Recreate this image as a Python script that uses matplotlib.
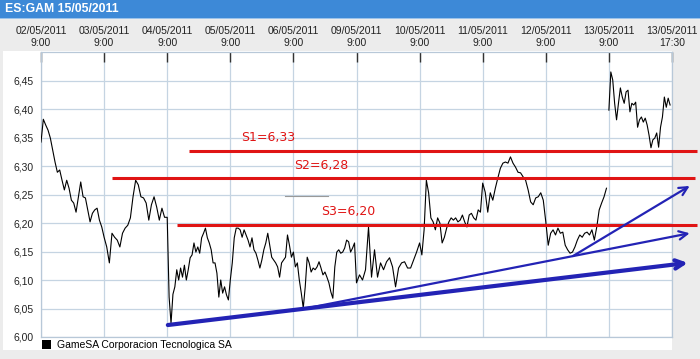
import numpy as np
import matplotlib.pyplot as plt
from matplotlib.patches import Rectangle, Patch

plt.rcParams['font.family'] = ['Liberation Sans', 'DejaVu Sans']

# trading sessions (one list of prices per day, sampled evenly through the session)
day_labels = ["02/05/2011", "03/05/2011", "04/05/2011", "05/05/2011", "06/05/2011",
              "09/05/2011", "10/05/2011", "11/05/2011", "12/05/2011", "13/05/2011"]
gap_before = ["13/05/2011"]

p_0205 = [6.342, 6.382, 6.372, 6.363, 6.349, 6.328, 6.307, 6.289, 6.293, 6.275, 6.258,
          6.275, 6.261, 6.240, 6.235, 6.219, 6.246, 6.272, 6.246, 6.244, 6.223, 6.202,
          6.217, 6.223, 6.226, 6.205, 6.193]
p_0305 = [6.175, 6.158, 6.130, 6.182, 6.175, 6.170, 6.158, 6.182, 6.191, 6.196, 6.209,
          6.246, 6.275, 6.267, 6.246, 6.244, 6.235, 6.205, 6.232, 6.246, 6.228, 6.205,
          6.226, 6.210]
p_0405 = [6.210, 6.070, 6.024, 6.075, 6.088, 6.118, 6.100, 6.121, 6.105, 6.126, 6.100,
          6.118, 6.139, 6.144, 6.165, 6.149, 6.158, 6.147, 6.174, 6.182, 6.191, 6.174,
          6.165, 6.153, 6.130, 6.130, 6.112, 6.070, 6.100, 6.077, 6.088, 6.074, 6.065]
p_0505 = [6.100, 6.130, 6.174, 6.191, 6.191, 6.188, 6.175, 6.188, 6.179, 6.170, 6.158,
          6.174, 6.153, 6.147, 6.135, 6.121, 6.135, 6.153, 6.165, 6.182, 6.161, 6.140,
          6.135, 6.130, 6.123, 6.105, 6.130, 6.135, 6.140, 6.179, 6.161, 6.140]
p_0605 = [6.149, 6.123, 6.130, 6.100, 6.077, 6.051, 6.088, 6.140, 6.130, 6.114, 6.121,
          6.118, 6.123, 6.132, 6.121, 6.109, 6.114, 6.105, 6.095, 6.079, 6.068, 6.123,
          6.149, 6.153, 6.147, 6.149, 6.156, 6.170, 6.167, 6.149, 6.156, 6.165]
p_0905 = [6.095, 6.109, 6.100, 6.118, 6.193, 6.105, 6.153, 6.105, 6.130, 6.118, 6.132,
          6.139, 6.123, 6.088, 6.121, 6.130, 6.132, 6.121, 6.121, 6.135, 6.149]
p_1005 = [6.165, 6.144, 6.188, 6.275, 6.253, 6.209, 6.202, 6.188, 6.209, 6.200, 6.165,
          6.175, 6.191, 6.202, 6.209, 6.205, 6.209, 6.202, 6.205, 6.214, 6.202, 6.193,
          6.214, 6.217, 6.209, 6.205, 6.223, 6.219]
p_1105 = [6.270, 6.254, 6.219, 6.253, 6.240, 6.261, 6.279, 6.296, 6.305, 6.307, 6.305,
          6.316, 6.305, 6.298, 6.289, 6.288, 6.281, 6.275, 6.258, 6.237, 6.232, 6.244,
          6.246, 6.253, 6.240]
p_1205 = [6.202, 6.161, 6.182, 6.188, 6.179, 6.191, 6.182, 6.184, 6.161, 6.153, 6.147,
          6.149, 6.158, 6.170, 6.179, 6.175, 6.182, 6.184, 6.179, 6.188, 6.170, 6.193,
          6.223, 6.235, 6.246, 6.261]
p_1305 = [6.398, 6.465, 6.451, 6.410, 6.381, 6.410, 6.437, 6.421, 6.410, 6.430, 6.433,
          6.395, 6.410, 6.407, 6.412, 6.368, 6.381, 6.386, 6.377, 6.384, 6.372, 6.354,
          6.332, 6.346, 6.349, 6.358, 6.333, 6.368, 6.386, 6.421, 6.403, 6.419, 6.407]
sessions = [p_0205, p_0305, p_0405, p_0505, p_0605, p_0905, p_1005, p_1105, p_1205, p_1305]

# hand-drawn support levels: (name, level, x start, x end) in day units
s_names = ["S1", "S2", "S3"]
s_levels = [6.327, 6.279, 6.197]
s_start = [2.35, 1.13, 2.16]
s_end = [10.40, 10.36, 10.40]
s_label_x = [3.17, 4.01, 4.44]

# hand-drawn trend arrows: start (day, price) -> end (day, price), width
tr_start = [(2.01, 6.021), (4.14, 6.049), (8.43, 6.142)]
tr_end = [(10.25, 6.130), (10.28, 6.182), (10.28, 6.265)]
tr_width = [3.0, 1.6, 1.6]

company = "GameSA Corporacion Tecnologica SA"

W, H = 700, 359
fig = plt.figure(figsize=(W / 100, H / 100), dpi=100, facecolor='#ececec')
fig.add_artist(Rectangle((0, 1 - 18 / H), 1, 18 / H, transform=fig.transFigure,
                         facecolor='#3d89d7', edgecolor='none', zorder=-2))
fig.add_artist(Rectangle((0, 1 - 19 / H), 1, 1.2 / H, transform=fig.transFigure,
                         facecolor='#9cc3ea', edgecolor='none', zorder=-2))
fig.add_artist(Rectangle((3 / W, 1 - 350 / H), 669 / W, 299 / H, transform=fig.transFigure,
                         facecolor='white', edgecolor='none', zorder=-2))
fig.text(5 / W, 1 - 9.5 / H, "ES:GAM 15/05/2011", color='white', fontweight='bold',
         fontsize=8.8, ha='left', va='center')

ax = fig.add_axes([41 / W, 1 - 337 / H, 631 / W, 285 / H])
ax.set_facecolor('white')

t_all, p_all = [], []
for lab, p in zip(day_labels, sessions):
    i = day_labels.index(lab)
    if lab in gap_before:
        t_all.append(np.nan)
        p_all.append(np.nan)
    t_all.extend(i + np.arange(len(p)) / len(p))
    p_all.extend(p)
ax.plot(t_all, p_all, color='black', lw=0.8, zorder=3)

red = '#e01414'
for name, lvl, x0, x1, lx in zip(s_names, s_levels, s_start, s_end, s_label_x):
    ax.plot([x0, x1], [lvl, lvl], color=red, lw=2.2, clip_on=False, zorder=4,
            solid_capstyle='butt')
    ax.text(lx, lvl + 0.011, f"{name}={lvl:.2f}".replace('.', ','), color=red,
            fontsize=9, family='DejaVu Sans', ha='left', va='bottom', zorder=5)

ax.plot([3.87, 4.55], [6.247, 6.247], color='#999999', lw=0.8, zorder=2)

blue = '#2323b5'
for (x0, y0), (x1, y1), w in zip(tr_start, tr_end, tr_width):
    ax.annotate('', xy=(x1, y1), xytext=(x0, y0), annotation_clip=False, zorder=5,
                arrowprops=dict(arrowstyle='->,head_length=0.6,head_width=0.3',
                                color=blue, lw=w, shrinkA=0, shrinkB=0))

ax.set_xlim(0, 10)
ax.set_ylim(6.0, 6.5)
ax.set_xticks(range(11))
ax.set_xticklabels([f"{d}\n9:00" for d in day_labels] + ["13/05/2011\n17:30"])
ax.xaxis.tick_top()
ax.tick_params(axis='x', direction='in', length=7, width=1, color='#333333', pad=3,
               labelsize=7.5, labelcolor='#222222')
yt = np.arange(6.0, 6.451, 0.05)
ax.set_yticks(yt)
ax.set_yticklabels([f"{v:.2f}".replace('.', ',') for v in yt])
ax.tick_params(axis='y', length=0, pad=5, labelsize=7.5, labelcolor='#222222')
ax.grid(True, color='#c5d4e2', lw=0.9)
for s in ax.spines.values():
    s.set_color('#b8c8d8')
    s.set_linewidth(0.9)

ax.legend(handles=[Patch(facecolor='black', label=company)], loc='upper left',
          bbox_to_anchor=(41 / W, 1 - 339 / H), bbox_transform=fig.transFigure,
          frameon=False, fontsize=7.5, handlelength=0.9, handleheight=0.9,
          handletextpad=0.5, borderpad=0.1, borderaxespad=0)

fig.savefig("out.png", dpi=100, facecolor=fig.get_facecolor())
